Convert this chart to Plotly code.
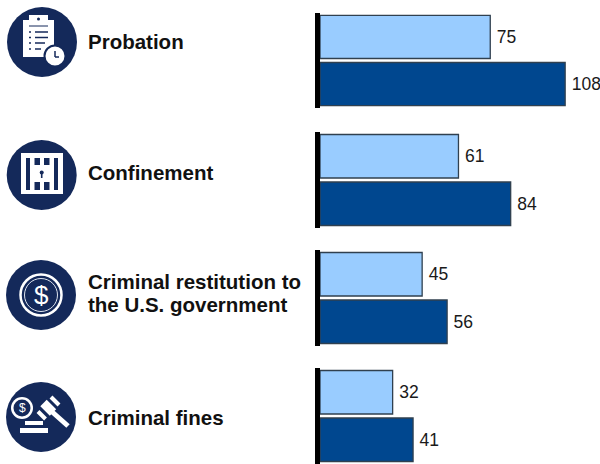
import plotly.graph_objects as go
from plotly.subplots import make_subplots

row_labels = [["Probation"], ["Confinement"], ["Criminal restitution to", "the U.S. government"], ["Criminal fines"]]
categories = ["Probation", "Confinement", "Criminal restitution to the U.S. government", "Criminal fines"]
series_light = [75, 61, 45, 32]
series_dark = [108, 84, 56, 41]

W, H = 600, 464
NAVY = "#14295A"
LIGHT = "#99CCFF"
DARK = "#00478F"
EDGE = "#30404F"
FONT = "Liberation Sans, Arial, sans-serif"

row_spans = [(13, 108), (132, 228), (250, 346), (368, 464)]
label_y = [[41], [173], [281, 304], [417.5]]
PLOT_LEFT, PLOT_RIGHT = 320, 600
X_MAX = 280 / 2.27
VALUE_TEMPLATE = "\u2009%{x}"

fig = make_subplots(rows=4, cols=1)
for i, cat in enumerate(categories):
    r = i + 1
    for values, color in ((series_light, LIGHT), (series_dark, DARK)):
        fig.add_trace(go.Bar(y=[cat], x=[values[i]], orientation="h", marker=dict(color=color, line=dict(color=EDGE, width=1.3)),
                             texttemplate=VALUE_TEMPLATE, textposition="outside", cliponaxis=False,
                             textfont=dict(size=17.5, color="#1a1a1a", family=FONT), showlegend=False), row=r, col=1)
    fig.update_yaxes(row=r, col=1, domain=[1 - row_spans[i][1] / H, 1 - row_spans[i][0] / H], autorange="reversed",
                     showticklabels=False, ticks="", showgrid=False, zeroline=False,
                     showline=True, linecolor="black", linewidth=5)
    fig.update_xaxes(row=r, col=1, domain=[PLOT_LEFT / W, PLOT_RIGHT / W], range=[0, X_MAX], visible=False)

# ---- icons, drawn in pixel space ----
shapes = []
px = lambda x: x / W
py = lambda y: 1 - y / H


def rect(x0, y0, x1, y1, color="white"):
    shapes.append(dict(type="rect", xref="paper", yref="paper", x0=px(x0), x1=px(x1), y0=py(y0), y1=py(y1),
                       fillcolor=color, line=dict(width=0), layer="above"))


def circ(cx, cy, r, fill=None, line=None, lw=0):
    shapes.append(dict(type="circle", xref="paper", yref="paper", x0=px(cx - r), x1=px(cx + r), y0=py(cy - r), y1=py(cy + r),
                       fillcolor=fill if fill else "rgba(0,0,0,0)", line=dict(color=line if line else "rgba(0,0,0,0)", width=lw), layer="above"))


def seg(x0, y0, x1, y1, color="white", w=2):
    shapes.append(dict(type="line", xref="paper", yref="paper", x0=px(x0), x1=px(x1), y0=py(y0), y1=py(y1),
                       line=dict(color=color, width=w), layer="above"))


# clipboard
circ(42, 42, 35, NAVY)
rect(23, 20, 54, 57)
rect(29, 15, 48, 25)
circ(38.5, 19, 1.5, NAVY)
seg(29, 26, 48, 26, NAVY, 1)
for y, x_end in zip([32, 37.5, 43, 49], [48, 48, 45, 41]):
    seg(29, y, 31, y, NAVY, 1.5)
    seg(35, y, x_end, y, NAVY, 1.5)
circ(55, 56, 10.5, "white", NAVY, 2)
seg(55, 51, 55, 57, NAVY, 1.5)
seg(55, 57, 59, 57, NAVY, 1.5)

# cell door
circ(41.7, 175, 35, NAVY)
rect(21, 153, 63, 194)
rect(26, 158, 30, 190, NAVY)
rect(54, 158, 58, 190, NAVY)
for x0 in (34.5, 44):
    rect(x0, 158, x0 + 5.5, 165, NAVY)
    rect(x0, 182, x0 + 5.5, 190, NAVY)
circ(41.7, 172.5, 2, NAVY)
rect(40.9, 172.5, 42.5, 178, NAVY)

# coin
circ(41, 295, 35, NAVY)
circ(41, 295, 20.5, None, "white", 2.5)
circ(41, 295, 16.5, None, "#DDE3EE", 1)

# gavel
circ(41, 417, 35, NAVY)
circ(22, 408, 11, "white")
circ(22, 408, 8.5, NAVY)
rect(25, 421, 43, 425)
rect(20, 428, 48, 433)
seg(50, 410, 68, 426, "white", 5)
seg(38, 411.5, 45.5, 419, "white", 4)
seg(51, 397, 59, 405, "white", 4)
seg(43.5, 403, 53, 412.5, "white", 9)

annotations = []
for lines, ys in zip(row_labels, label_y):
    for text, y in zip(lines, ys):
        annotations.append(dict(text=text, xref="paper", yref="paper", x=px(85.5), y=py(y), xanchor="left", yanchor="middle",
                                showarrow=False, align="left", font=dict(size=20.5, color="#111111", family=FONT, weight="bold")))
annotations.append(dict(text="$", xref="paper", yref="paper", x=px(41), y=py(295), showarrow=False, xanchor="center", yanchor="middle",
                        font=dict(size=26, color="white", family=FONT)))
annotations.append(dict(text="$", xref="paper", yref="paper", x=px(22), y=py(408), showarrow=False, xanchor="center", yanchor="middle",
                        font=dict(size=12, color="white", family=FONT)))

fig.update_layout(width=W, height=H, margin=dict(l=0, r=0, t=0, b=0), paper_bgcolor="white", plot_bgcolor="white",
                  barmode="group", bargap=0.01, bargroupgap=0.085, shapes=shapes, annotations=annotations, showlegend=False)
fig.write_html("out.html", config=dict(displayModeBar=False),
               post_script="document.body.style.margin='0';document.documentElement.style.overflow='hidden';")
